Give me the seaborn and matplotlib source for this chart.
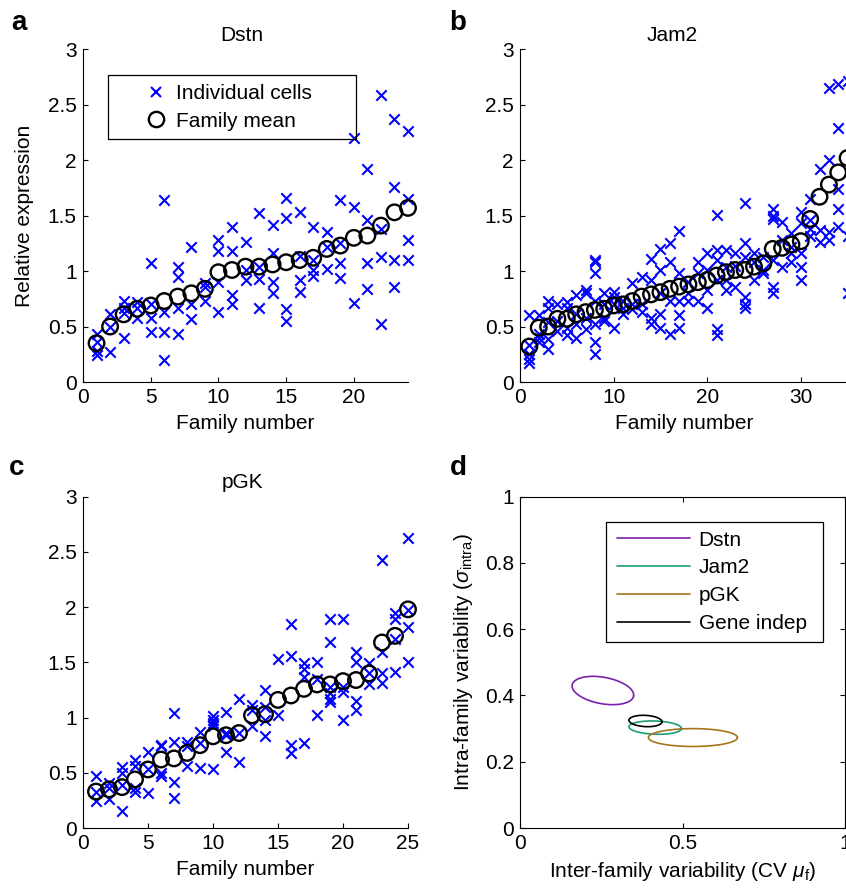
import numpy as np
import pandas as pd
import matplotlib
matplotlib.use("Agg")
import matplotlib.pyplot as plt
from matplotlib.lines import Line2D
from matplotlib.patches import Rectangle
import seaborn as sns

# ---- data ----
dstn_means = [0.35, 0.50, 0.61, 0.66, 0.69, 0.73, 0.77, 0.80, 0.84, 0.99, 1.01, 1.04,
              1.04, 1.06, 1.08, 1.10, 1.12, 1.20, 1.23, 1.30, 1.32, 1.41, 1.53, 1.57]
dstn_cells = [
    [0.43, 0.36, 0.28, 0.24], [0.61, 0.50, 0.27], [0.73, 0.67, 0.40, 0.62],
    [0.72, 0.67, 0.58], [1.07, 0.70, 0.58, 0.45], [1.64, 0.63, 0.45, 0.20],
    [1.04, 0.95, 0.67, 0.43], [1.22, 0.70, 0.57], [0.89, 0.86, 0.73],
    [1.28, 1.18, 0.90, 0.63], [1.40, 1.18, 0.78, 0.70], [1.26, 1.01, 0.92],
    [1.52, 1.04, 0.93, 0.67], [1.42, 1.16, 0.90, 0.80], [1.66, 1.48, 0.66, 0.55],
    [1.53, 1.14, 0.92, 0.81], [1.40, 1.10, 1.01, 0.96], [1.35, 1.22, 1.02],
    [1.64, 1.25, 1.07, 0.94], [2.20, 1.58, 0.71], [1.92, 1.46, 1.07, 0.84],
    [2.59, 1.38, 1.13, 0.52], [2.37, 1.76, 1.10, 0.86], [2.26, 1.65, 1.28, 1.10],
]

jam2_means = [0.32, 0.49, 0.50, 0.57, 0.57, 0.61, 0.63, 0.65, 0.66, 0.69, 0.70, 0.73,
              0.77, 0.79, 0.81, 0.84, 0.86, 0.88, 0.90, 0.92, 0.96, 0.99, 1.01, 1.01,
              1.04, 1.07, 1.20, 1.21, 1.24, 1.27, 1.47, 1.67, 1.78, 1.89, 2.02]
jam2_cells = [
    [0.60, 0.33, 0.25, 0.21, 0.17], [0.60, 0.43, 0.40, 0.36], [0.73, 0.67, 0.54, 0.39, 0.30],
    [0.70, 0.55, 0.46], [0.72, 0.67, 0.49, 0.42], [0.78, 0.61, 0.52, 0.40],
    [0.83, 0.80, 0.58, 0.48], [1.10, 1.08, 0.98, 0.73, 0.52, 0.36, 0.25],
    [0.80, 0.70, 0.58, 0.55], [0.81, 0.77, 0.70, 0.49], [0.73, 0.67, 0.61],
    [0.89, 0.70, 0.66], [0.95, 0.70, 0.63], [1.11, 0.92, 0.58, 0.52],
    [1.20, 1.01, 0.80, 0.61, 0.49], [1.25, 1.08, 0.73, 0.43],
    [1.36, 0.98, 0.73, 0.60, 0.49], [0.90, 0.80, 0.73], [1.08, 0.98, 0.73],
    [1.16, 1.01, 0.83, 0.67], [1.51, 1.19, 1.10, 0.92, 0.48, 0.42],
    [1.19, 1.04, 0.92, 0.83], [1.16, 1.05, 0.86], [1.61, 1.25, 1.13, 0.77, 0.70, 0.67],
    [1.16, 1.08, 0.92], [1.13, 1.01, 0.98], [1.56, 1.50, 1.47, 1.10, 0.86, 0.80],
    [1.44, 1.28, 1.04], [1.34, 1.22, 1.16, 1.08], [1.53, 1.43, 1.16, 1.04, 0.92],
    [1.65, 1.46, 1.38, 1.32], [1.92, 1.37, 1.26], [2.65, 2.00, 1.35, 1.28],
    [2.69, 2.29, 1.74, 1.56, 1.40], [2.71, 1.32, 0.80],
]

pgk_means = [0.33, 0.35, 0.37, 0.44, 0.53, 0.62, 0.63, 0.68, 0.75, 0.83, 0.84, 0.86,
             1.02, 1.03, 1.16, 1.20, 1.26, 1.30, 1.30, 1.33, 1.34, 1.40, 1.68, 1.74, 1.98]
pgk_cells = [
    [0.47, 0.33, 0.24], [0.41, 0.36, 0.26], [0.55, 0.50, 0.39, 0.15],
    [0.62, 0.56, 0.36, 0.33], [0.69, 0.53, 0.32], [0.75, 0.74, 0.50, 0.47],
    [1.04, 0.78, 0.42, 0.27], [0.78, 0.74, 0.56], [0.87, 0.77, 0.54],
    [1.01, 0.98, 0.95, 0.92, 0.53], [1.05, 0.86, 0.84, 0.69], [1.17, 0.86, 0.60],
    [1.11, 1.07, 0.92], [1.25, 1.10, 0.98, 0.83], [1.53, 1.02],
    [1.85, 1.56, 0.75, 0.68], [1.49, 1.44, 1.37, 0.77], [1.50, 1.35, 1.02],
    [1.89, 1.68, 1.28, 1.22, 1.17, 1.14], [1.89, 1.28, 1.23, 0.98],
    [1.59, 1.50, 1.15, 1.07], [1.49, 1.40, 1.30], [2.43, 1.59, 1.40, 1.31],
    [1.95, 1.89, 1.71, 1.41], [2.63, 1.97, 1.82, 1.50],
]

# panel d: confidence ellipses (inter-family CV, intra-family sigma)
ell_names = ["Dstn", "Jam2", "pGK", "Gene indep"]
ell_cx = [0.255, 0.416, 0.532, 0.386]
ell_cy = [0.415, 0.303, 0.273, 0.323]
ell_a = [0.096, 0.081, 0.137, 0.051]
ell_b = [0.040, 0.020, 0.027, 0.017]
ell_angle = [-10, -2, 0, -3]
ell_colors = ["#7b1fae", "#1b9e77", "#a6761d", "black"]

# ---- style ----
sns.set_theme(style="ticks")
plt.rcParams["font.family"] = ["Liberation Sans", "DejaVu Sans"]
plt.rcParams["mathtext.fontset"] = "custom"
plt.rcParams["mathtext.rm"] = "Liberation Sans"
plt.rcParams["mathtext.it"] = "Liberation Sans:italic"
plt.rcParams["text.color"] = "black"
plt.rcParams["axes.labelcolor"] = "black"
plt.rcParams["axes.titlecolor"] = "black"
FS = 15

fig = plt.figure(figsize=(8.46, 8.89), dpi=100)
W, H = 846.0, 889.0


def rect(x0, x1, ytop, ybot):
    return [x0 / W, 1 - ybot / H, (x1 - x0) / W, (ybot - ytop) / H]


def style_axes(ax, box=False):
    for s in ["left", "bottom", "top", "right"]:
        ax.spines[s].set_color("black")
        ax.spines[s].set_linewidth(0.8)
        if not box and s in ("top", "right"):
            ax.spines[s].set_visible(False)
    ax.tick_params(direction="in", length=3.5, width=0.8, labelsize=FS, pad=4.5,
                   colors="black", top=box, right=box)


def family_panel(ax, cells, means, title, xmax, xticks, title_x=0.49):
    fam = [i + 1 for i, c in enumerate(cells) for _ in c]
    vals = [v for c in cells for v in c]
    df_cells = pd.DataFrame({"family": fam, "value": vals})
    df_means = pd.DataFrame({"family": np.arange(1, len(means) + 1), "value": means})
    sns.scatterplot(data=df_cells, x="family", y="value", marker="x", color="blue",
                    s=56, linewidth=1.5, ax=ax, clip_on=False, zorder=2)
    sns.scatterplot(data=df_means, x="family", y="value", marker="o", s=125,
                    facecolor="none", edgecolor="black", linewidth=1.7, ax=ax,
                    clip_on=False, zorder=3)
    ax.set_xlim(0, xmax)
    ax.set_ylim(0, 3)
    ax.set_xticks(xticks)
    ax.set_yticks([0, 0.5, 1, 1.5, 2, 2.5, 3])
    ax.set_yticklabels(["0", "0.5", "1", "1.5", "2", "2.5", "3"])
    ax.set_xlabel("Family number", fontsize=FS, labelpad=5)
    ax.set_ylabel("")
    ax.set_title(title, fontsize=FS, pad=6, x=title_x)
    style_axes(ax)


ax_a = fig.add_axes(rect(83, 408, 49.3, 382))
ax_b = fig.add_axes(rect(520, 847.6, 49.3, 382))
ax_c = fig.add_axes(rect(83, 408, 496.7, 828))
ax_d = fig.add_axes(rect(520, 845, 496.7, 828))

family_panel(ax_a, dstn_cells, dstn_means, "Dstn", 24, [0, 5, 10, 15, 20])
family_panel(ax_b, jam2_cells, jam2_means, "Jam2", 35, [0, 10, 20, 30], title_x=0.464)
family_panel(ax_c, pgk_cells, pgk_means, "pGK", 25, [0, 5, 10, 15, 20, 25])
ax_a.set_ylabel("Relative expression", fontsize=FS, labelpad=10)

# legend panel a (MATLAB-like box drawn separately)
ax_a.add_patch(Rectangle((0.077, 0.729), 0.763, 0.194, transform=ax_a.transAxes,
                         fill=False, edgecolor="black", linewidth=0.9, zorder=4,
                         clip_on=False))
handles_a = [
    Line2D([], [], ls="none", marker="x", color="blue", ms=7.5, mew=1.5),
    Line2D([], [], ls="none", marker="o", mfc="none", mec="black", ms=11, mew=1.7),
]
ax_a.legend(handles_a, ["Individual cells", "Family mean"], loc="center left",
            bbox_to_anchor=(0.19, 0.826), frameon=False, fontsize=FS,
            handlelength=1.1, handletextpad=0.4, borderpad=0, borderaxespad=0,
            labelspacing=0.42)

# panel d
t = np.linspace(0, 2 * np.pi, 300)
for name, cx, cy, a, b, ang, col in zip(ell_names, ell_cx, ell_cy, ell_a, ell_b,
                                         ell_angle, ell_colors):
    th = np.deg2rad(ang)
    ex = cx + a * np.cos(t) * np.cos(th) - b * np.sin(t) * np.sin(th)
    ey = cy + a * np.cos(t) * np.sin(th) + b * np.sin(t) * np.cos(th)
    ax_d.plot(ex, ey, color=col, lw=1.2)
ax_d.set_xlim(0, 1)
ax_d.set_ylim(0, 1)
ax_d.set_xticks([0, 0.5, 1])
ax_d.set_xticklabels(["0", "0.5", "1"])
ax_d.set_yticks([0, 0.2, 0.4, 0.6, 0.8, 1])
ax_d.set_yticklabels(["0", "0.2", "0.4", "0.6", "0.8", "1"])
ax_d.set_xlabel(r"Inter-family variability (CV $\mu_{\rm f}$)", fontsize=FS, labelpad=5)
ax_d.set_ylabel(r"Intra-family variability ($\sigma_{\rm intra}$)", fontsize=FS, labelpad=7)
style_axes(ax_d, box=True)
ax_d.add_patch(Rectangle((0.265, 0.5616), 0.667, 0.363, transform=ax_d.transAxes,
                         fill=False, edgecolor="black", linewidth=0.9, zorder=4))
handles_d = [Line2D([], [], color=c, lw=1.2) for c in ell_colors]
ax_d.legend(handles_d, ell_names, loc="center left", bbox_to_anchor=(0.298, 0.743),
            frameon=False, fontsize=FS, handlelength=3.5, handletextpad=0.42,
            borderpad=0, borderaxespad=0, labelspacing=0.42)

# panel letters
for lab, x, y in [("a", 19, 23), ("b", 458, 23), ("c", 17, 468), ("d", 458, 468)]:
    fig.text(x / W, 1 - y / H, lab, fontsize=20, fontweight="bold", ha="center",
             va="center")

fig.savefig("out.png", dpi=100)
